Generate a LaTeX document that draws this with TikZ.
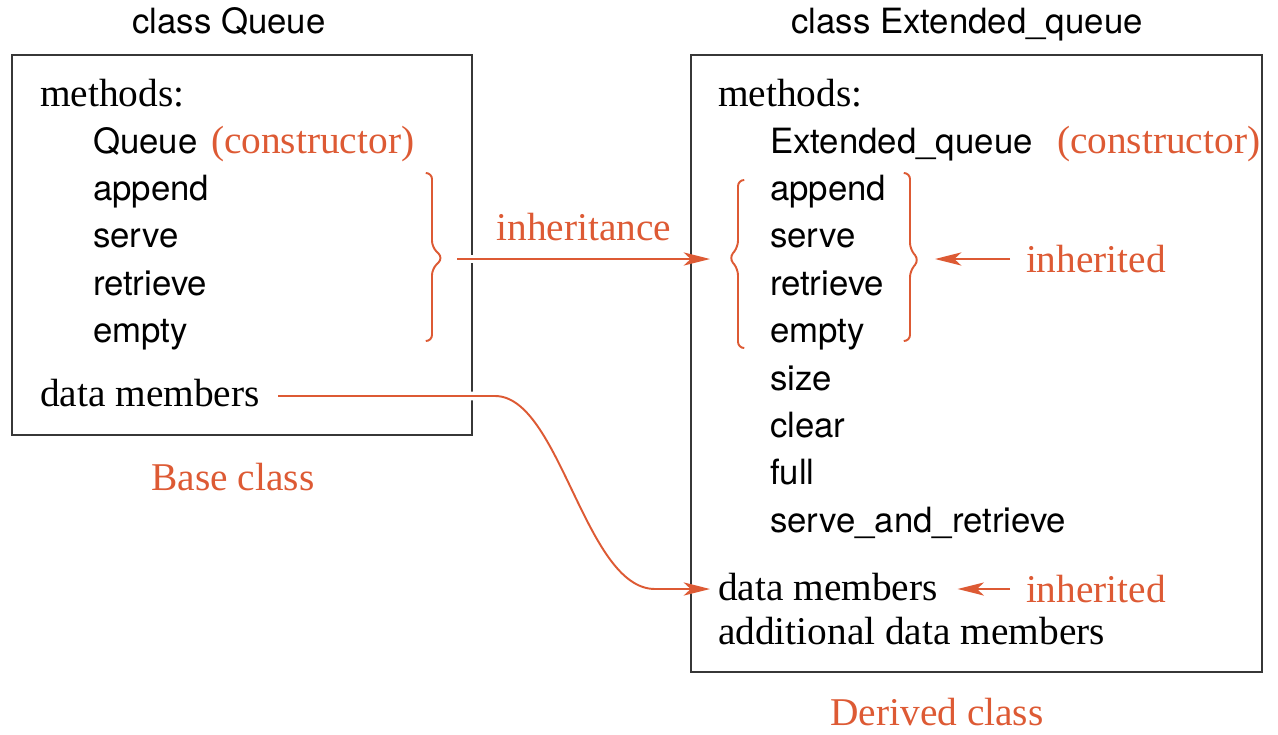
\documentclass[tikz,border=0pt]{standalone}
\usepackage{fontspec}
\setmainfont{Liberation Serif}
\setsansfont{TeX Gyre Heros}
\usetikzlibrary{arrows.meta}
\definecolor{accent}{RGB}{221,90,52}
\definecolor{boxline}{RGB}{55,55,55}

\begin{document}
\begin{tikzpicture}[
        x=0.02cm, y=-0.02cm,
        every node/.style={inner sep=0pt, outer sep=0pt},
        serif/.style={font=\fontsize{22.4}{26}\selectfont},
        sans/.style={font=\sffamily\fontsize{19.8}{24}\selectfont},
        member/.style={sans, anchor=base west},
        note/.style={serif, text=accent},
        classbox/.style={draw=boxline, line width=1.1pt},
        arrow/.style={draw=accent, line width=1.1pt, -{Stealth[length=15pt, width=7.5pt, inset=4pt]},
            preaction={draw=white, line width=5pt, -}},
        bracket/.style={draw=accent, line width=1.1pt, rounded corners=3.5pt}
    ]
    \useasboundingbox (0,0) rectangle (1278,734);
%
    % the two class boxes
    \draw[classbox] (12,55) rectangle (472,435);
    \draw[classbox] (691,55) rectangle (1262,672);
%
    % base class
    \node[sans, anchor=base] (baseTitle) at (229,33) {class Queue};
    \node[serif, anchor=base west] (baseMethods) at (40,106) {methods:};
    \node[member] (baseCtor) at (93,153) {Queue};
    \node[note, anchor=base west] (baseCtorNote) at (211,153) {(constructor)};
    \node[member] (baseAppend) at (93,200.4) {append};
    \node[member] (baseServe) at (93,247.8) {serve};
    \node[member] (baseRetrieve) at (93,295.2) {retrieve};
    \node[member] (baseEmpty) at (93,342.6) {empty};
    \node[serif, anchor=base west] (baseData) at (40,406) {data members};
    \node[note, anchor=base] (baseCaption) at (233,490) {Base class};
%
    % derived class
    \node[sans, anchor=base] (derivedTitle) at (967,33) {class Extended\_queue};
    \node[serif, anchor=base west] (derivedMethods) at (718,106) {methods:};
    \node[member] (derivedCtor) at (770,153) {Extended\_queue};
    \node[note, anchor=base west] (derivedCtorNote) at (1057,153) {(constructor)};
    \node[member] (derivedAppend) at (770,200.4) {append};
    \node[member] (derivedServe) at (770,247.8) {serve};
    \node[member] (derivedRetrieve) at (770,295.2) {retrieve};
    \node[member] (derivedEmpty) at (770,342.6) {empty};
    \node[member] (derivedSize) at (770,390) {size};
    \node[member] (derivedClear) at (770,437.4) {clear};
    \node[member] (derivedFull) at (770,484.8) {full};
    \node[member] (derivedServeRetrieve) at (770,532.2) {serve\_and\_retrieve};
    \node[serif, anchor=base west] (derivedData) at (718,600) {data members};
    \node[serif, anchor=base west] (derivedExtra) at (718,644) {additional data members};
    \node[note, anchor=base] (derivedCaption) at (937,725) {Derived class};
%
    % braces round the shared methods
    \draw[bracket] (427,173) -- (432,173) -- (432,247) -- (443,258) -- (432,269) -- (432,341) -- (427,341);
    \draw[bracket] (743,180) -- (738,180) -- (738,247) -- (729,258) -- (738,269) -- (738,348) -- (743,348);
    \draw[bracket] (905,173) -- (910,173) -- (910,249) -- (919,260) -- (910,271) -- (910,341) -- (905,341);
%
    % inheritance arrow
    \coordinate (baseBraceTip) at (457,259);
    \coordinate (derivedBraceTip) at (710,259);
    \draw[arrow] (baseBraceTip) -- (derivedBraceTip);
    \node[note, anchor=base] (inheritLabel) at (584,240) {inheritance};
%
    % inherited notes
    \coordinate (rightBraceTip) at (935,259);
    \node[note, anchor=west, inner xsep=0.32cm] (inheritedMethods) at (1010,259) {inherited};
    \draw[arrow] (inheritedMethods.west) -- (rightBraceTip);
    \node[note, anchor=west, inner xsep=0.32cm] (inheritedData) at (1010,589) {inherited};
    \draw[arrow, shorten >=0.4cm] (inheritedData.west) -- (inheritedData.west -| derivedData.east);
%
    % data members carried over
    \coordinate (dataOut) at (278,396);
    \coordinate (dataIn) at (710,589);
    \draw[arrow] (dataOut) -- (495,396) .. controls (560,396) and (585,589) .. (655,589) -- (dataIn);
%
\end{tikzpicture}
\end{document}
